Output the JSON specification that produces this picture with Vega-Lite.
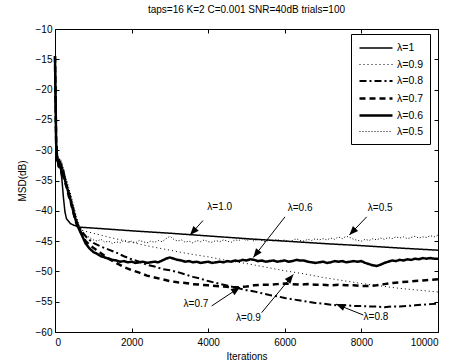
{
"$schema": "https://vega.github.io/schema/vega-lite/v6.json",
"width": 383, "height": 303,
"autosize": {"type": "none"},
"padding": {"left": 55, "top": 29, "right": 22, "bottom": 31},
"title": {"text": "taps=16 K=2 C=0.001 SNR=40dB trials=100", "fontSize": 10, "fontWeight": "normal", "font": "Liberation Sans", "color": "black", "offset": 9, "anchor": "middle"},
"config": {
  "font": "Liberation Sans",
  "view": {"stroke": "black", "strokeWidth": 1},
  "axis": {"domain": false, "grid": false, "ticks": true, "tickColor": "black", "tickSize": -4, "labelColor": "black", "labelFontSize": 10, "labelFont": "Liberation Sans", "titleFont": "Liberation Sans", "titleFontSize": 10, "titleFontWeight": "normal", "titleColor": "black"}
},
"datasets": {
"curves": [
{"lambda":"λ=1","iter":0,"msd":-14.5},{"lambda":"λ=1","iter":30,"msd":-28},{"lambda":"λ=1","iter":60,"msd":-31.5},{"lambda":"λ=1","iter":100,"msd":-32.3},{"lambda":"λ=1","iter":150,"msd":-33.3},{"lambda":"λ=1","iter":180,"msd":-34.8},{"lambda":"λ=1","iter":220,"msd":-37.8},{"lambda":"λ=1","iter":260,"msd":-40.2},{"lambda":"λ=1","iter":300,"msd":-41.3},{"lambda":"λ=1","iter":400,"msd":-42.1},{"lambda":"λ=1","iter":500,"msd":-42.4},{"lambda":"λ=1","iter":650,"msd":-42.7},{"lambda":"λ=1","iter":1000,"msd":-42.85},{"lambda":"λ=1","iter":2000,"msd":-43.3},{"lambda":"λ=1","iter":3000,"msd":-43.7},{"lambda":"λ=1","iter":4000,"msd":-44.15},{"lambda":"λ=1","iter":5000,"msd":-44.6},{"lambda":"λ=1","iter":6000,"msd":-45.0},{"lambda":"λ=1","iter":7000,"msd":-45.4},{"lambda":"λ=1","iter":8000,"msd":-45.75},{"lambda":"λ=1","iter":9000,"msd":-46.15},{"lambda":"λ=1","iter":10000,"msd":-46.5},

{"lambda":"λ=0.9","iter":0,"msd":-14.5},{"lambda":"λ=0.9","iter":30,"msd":-29},{"lambda":"λ=0.9","iter":60,"msd":-31.2},{"lambda":"λ=0.9","iter":90,"msd":-32.5},{"lambda":"λ=0.9","iter":120,"msd":-31.8},{"lambda":"λ=0.9","iter":160,"msd":-33.4},{"lambda":"λ=0.9","iter":200,"msd":-33},{"lambda":"λ=0.9","iter":250,"msd":-34.6},{"lambda":"λ=0.9","iter":300,"msd":-35.2},{"lambda":"λ=0.9","iter":350,"msd":-36.5},{"lambda":"λ=0.9","iter":400,"msd":-37.2},{"lambda":"λ=0.9","iter":450,"msd":-38.8},{"lambda":"λ=0.9","iter":500,"msd":-39.9},{"lambda":"λ=0.9","iter":550,"msd":-41.2},{"lambda":"λ=0.9","iter":600,"msd":-42.2},{"lambda":"λ=0.9","iter":700,"msd":-43.2},{"lambda":"λ=0.9","iter":800,"msd":-43.4},{"lambda":"λ=0.9","iter":1000,"msd":-43.7},{"lambda":"λ=0.9","iter":1500,"msd":-44.5},{"lambda":"λ=0.9","iter":2000,"msd":-45.2},{"lambda":"λ=0.9","iter":2500,"msd":-45.9},{"lambda":"λ=0.9","iter":3000,"msd":-46.5},{"lambda":"λ=0.9","iter":3500,"msd":-47.1},{"lambda":"λ=0.9","iter":4000,"msd":-47.6},{"lambda":"λ=0.9","iter":4500,"msd":-48.2},{"lambda":"λ=0.9","iter":5000,"msd":-48.7},{"lambda":"λ=0.9","iter":5500,"msd":-49.3},{"lambda":"λ=0.9","iter":6000,"msd":-49.9},{"lambda":"λ=0.9","iter":6500,"msd":-50.4},{"lambda":"λ=0.9","iter":7000,"msd":-51.0},{"lambda":"λ=0.9","iter":7500,"msd":-51.5},{"lambda":"λ=0.9","iter":8000,"msd":-52.0},{"lambda":"λ=0.9","iter":8500,"msd":-52.4},{"lambda":"λ=0.9","iter":9000,"msd":-52.8},{"lambda":"λ=0.9","iter":9500,"msd":-53.1},{"lambda":"λ=0.9","iter":10000,"msd":-53.4},

{"lambda":"λ=0.8","iter":0,"msd":-14.5},{"lambda":"λ=0.8","iter":30,"msd":-29.5},{"lambda":"λ=0.8","iter":60,"msd":-31},{"lambda":"λ=0.8","iter":90,"msd":-32.8},{"lambda":"λ=0.8","iter":130,"msd":-32},{"lambda":"λ=0.8","iter":170,"msd":-33.8},{"lambda":"λ=0.8","iter":210,"msd":-33.4},{"lambda":"λ=0.8","iter":260,"msd":-35},{"lambda":"λ=0.8","iter":310,"msd":-35.8},{"lambda":"λ=0.8","iter":360,"msd":-37},{"lambda":"λ=0.8","iter":410,"msd":-37.9},{"lambda":"λ=0.8","iter":460,"msd":-39.3},{"lambda":"λ=0.8","iter":510,"msd":-40.4},{"lambda":"λ=0.8","iter":560,"msd":-41.6},{"lambda":"λ=0.8","iter":620,"msd":-42.6},{"lambda":"λ=0.8","iter":700,"msd":-43.4},{"lambda":"λ=0.8","iter":800,"msd":-44.2},{"lambda":"λ=0.8","iter":900,"msd":-44.8},{"lambda":"λ=0.8","iter":1000,"msd":-45.3},{"lambda":"λ=0.8","iter":1200,"msd":-45.9},{"lambda":"λ=0.8","iter":1400,"msd":-46.4},{"lambda":"λ=0.8","iter":1600,"msd":-46.9},{"lambda":"λ=0.8","iter":1800,"msd":-47.5},{"lambda":"λ=0.8","iter":2000,"msd":-48.0},{"lambda":"λ=0.8","iter":2200,"msd":-48.4},{"lambda":"λ=0.8","iter":2400,"msd":-48.9},{"lambda":"λ=0.8","iter":2600,"msd":-49.2},{"lambda":"λ=0.8","iter":2800,"msd":-49.6},{"lambda":"λ=0.8","iter":3000,"msd":-49.8},{"lambda":"λ=0.8","iter":3200,"msd":-50.1},{"lambda":"λ=0.8","iter":3400,"msd":-50.5},{"lambda":"λ=0.8","iter":3600,"msd":-50.9},{"lambda":"λ=0.8","iter":3800,"msd":-51.2},{"lambda":"λ=0.8","iter":4000,"msd":-51.6},{"lambda":"λ=0.8","iter":4200,"msd":-51.9},{"lambda":"λ=0.8","iter":4400,"msd":-52.2},{"lambda":"λ=0.8","iter":4600,"msd":-52.5},{"lambda":"λ=0.8","iter":4800,"msd":-52.8},{"lambda":"λ=0.8","iter":5000,"msd":-53.1},{"lambda":"λ=0.8","iter":5200,"msd":-53.3},{"lambda":"λ=0.8","iter":5400,"msd":-53.6},{"lambda":"λ=0.8","iter":5600,"msd":-53.9},{"lambda":"λ=0.8","iter":5800,"msd":-54.1},{"lambda":"λ=0.8","iter":6000,"msd":-54.4},{"lambda":"λ=0.8","iter":6200,"msd":-54.6},{"lambda":"λ=0.8","iter":6400,"msd":-54.8},{"lambda":"λ=0.8","iter":6600,"msd":-55.0},{"lambda":"λ=0.8","iter":6800,"msd":-55.2},{"lambda":"λ=0.8","iter":7000,"msd":-55.3},{"lambda":"λ=0.8","iter":7200,"msd":-55.5},{"lambda":"λ=0.8","iter":7400,"msd":-55.6},{"lambda":"λ=0.8","iter":7600,"msd":-55.6},{"lambda":"λ=0.8","iter":7800,"msd":-55.7},{"lambda":"λ=0.8","iter":8000,"msd":-55.7},{"lambda":"λ=0.8","iter":8200,"msd":-55.8},{"lambda":"λ=0.8","iter":8400,"msd":-55.8},{"lambda":"λ=0.8","iter":8600,"msd":-55.9},{"lambda":"λ=0.8","iter":8800,"msd":-55.8},{"lambda":"λ=0.8","iter":9000,"msd":-55.8},{"lambda":"λ=0.8","iter":9200,"msd":-55.7},{"lambda":"λ=0.8","iter":9400,"msd":-55.6},{"lambda":"λ=0.8","iter":9600,"msd":-55.5},{"lambda":"λ=0.8","iter":9800,"msd":-55.4},{"lambda":"λ=0.8","iter":10000,"msd":-55.3},

{"lambda":"λ=0.7","iter":0,"msd":-14.5},{"lambda":"λ=0.7","iter":30,"msd":-28.5},{"lambda":"λ=0.7","iter":60,"msd":-31.8},{"lambda":"λ=0.7","iter":90,"msd":-31.2},{"lambda":"λ=0.7","iter":130,"msd":-33},{"lambda":"λ=0.7","iter":170,"msd":-32.6},{"lambda":"λ=0.7","iter":210,"msd":-34.2},{"lambda":"λ=0.7","iter":260,"msd":-35.3},{"lambda":"λ=0.7","iter":310,"msd":-36.2},{"lambda":"λ=0.7","iter":360,"msd":-37.6},{"lambda":"λ=0.7","iter":410,"msd":-38.5},{"lambda":"λ=0.7","iter":460,"msd":-39.8},{"lambda":"λ=0.7","iter":510,"msd":-41},{"lambda":"λ=0.7","iter":560,"msd":-42.1},{"lambda":"λ=0.7","iter":620,"msd":-43},{"lambda":"λ=0.7","iter":700,"msd":-43.8},{"lambda":"λ=0.7","iter":800,"msd":-45},{"lambda":"λ=0.7","iter":900,"msd":-45.6},{"lambda":"λ=0.7","iter":1000,"msd":-46.1},{"lambda":"λ=0.7","iter":1200,"msd":-47.0},{"lambda":"λ=0.7","iter":1400,"msd":-47.9},{"lambda":"λ=0.7","iter":1600,"msd":-48.6},{"lambda":"λ=0.7","iter":1800,"msd":-49.3},{"lambda":"λ=0.7","iter":2000,"msd":-49.8},{"lambda":"λ=0.7","iter":2200,"msd":-50.2},{"lambda":"λ=0.7","iter":2400,"msd":-50.7},{"lambda":"λ=0.7","iter":2600,"msd":-51.0},{"lambda":"λ=0.7","iter":2800,"msd":-51.3},{"lambda":"λ=0.7","iter":3000,"msd":-51.6},{"lambda":"λ=0.7","iter":3200,"msd":-51.8},{"lambda":"λ=0.7","iter":3400,"msd":-51.9},{"lambda":"λ=0.7","iter":3600,"msd":-52.1},{"lambda":"λ=0.7","iter":3800,"msd":-52.2},{"lambda":"λ=0.7","iter":4000,"msd":-52.3},{"lambda":"λ=0.7","iter":4200,"msd":-52.4},{"lambda":"λ=0.7","iter":4400,"msd":-52.5},{"lambda":"λ=0.7","iter":4600,"msd":-52.6},{"lambda":"λ=0.7","iter":4800,"msd":-52.6},{"lambda":"λ=0.7","iter":5000,"msd":-52.5},{"lambda":"λ=0.7","iter":5200,"msd":-52.3},{"lambda":"λ=0.7","iter":5400,"msd":-52.2},{"lambda":"λ=0.7","iter":5600,"msd":-52.2},{"lambda":"λ=0.7","iter":5800,"msd":-52.1},{"lambda":"λ=0.7","iter":6000,"msd":-52.0},{"lambda":"λ=0.7","iter":6200,"msd":-52.1},{"lambda":"λ=0.7","iter":6400,"msd":-52.2},{"lambda":"λ=0.7","iter":6600,"msd":-52.1},{"lambda":"λ=0.7","iter":6800,"msd":-52.2},{"lambda":"λ=0.7","iter":7000,"msd":-52.2},{"lambda":"λ=0.7","iter":7200,"msd":-52.3},{"lambda":"λ=0.7","iter":7400,"msd":-52.2},{"lambda":"λ=0.7","iter":7600,"msd":-52.3},{"lambda":"λ=0.7","iter":7800,"msd":-52.3},{"lambda":"λ=0.7","iter":8000,"msd":-52.4},{"lambda":"λ=0.7","iter":8200,"msd":-52.4},{"lambda":"λ=0.7","iter":8400,"msd":-52.3},{"lambda":"λ=0.7","iter":8600,"msd":-52.1},{"lambda":"λ=0.7","iter":8800,"msd":-51.9},{"lambda":"λ=0.7","iter":9000,"msd":-51.8},{"lambda":"λ=0.7","iter":9200,"msd":-51.7},{"lambda":"λ=0.7","iter":9400,"msd":-51.6},{"lambda":"λ=0.7","iter":9600,"msd":-51.5},{"lambda":"λ=0.7","iter":9800,"msd":-51.4},{"lambda":"λ=0.7","iter":10000,"msd":-51.3},

{"lambda":"λ=0.6","iter":0,"msd":-14.5},{"lambda":"λ=0.6","iter":30,"msd":-29},{"lambda":"λ=0.6","iter":60,"msd":-31.5},{"lambda":"λ=0.6","iter":100,"msd":-32.5},{"lambda":"λ=0.6","iter":140,"msd":-32.1},{"lambda":"λ=0.6","iter":180,"msd":-33.9},{"lambda":"λ=0.6","iter":220,"msd":-33.6},{"lambda":"λ=0.6","iter":270,"msd":-35.1},{"lambda":"λ=0.6","iter":320,"msd":-36.3},{"lambda":"λ=0.6","iter":370,"msd":-37.4},{"lambda":"λ=0.6","iter":420,"msd":-38.6},{"lambda":"λ=0.6","iter":470,"msd":-39.9},{"lambda":"λ=0.6","iter":520,"msd":-41.1},{"lambda":"λ=0.6","iter":580,"msd":-42.3},{"lambda":"λ=0.6","iter":640,"msd":-43.2},{"lambda":"λ=0.6","iter":700,"msd":-44.0},{"lambda":"λ=0.6","iter":800,"msd":-45.4},{"lambda":"λ=0.6","iter":900,"msd":-46.2},{"lambda":"λ=0.6","iter":1000,"msd":-46.8},{"lambda":"λ=0.6","iter":1100,"msd":-47.1},{"lambda":"λ=0.6","iter":1200,"msd":-47.5},
{"lambda":"λ=0.6","iter":1300,"msd":-47.7},{"lambda":"λ=0.6","iter":1400,"msd":-47.9},{"lambda":"λ=0.6","iter":1500,"msd":-48.1},{"lambda":"λ=0.6","iter":1600,"msd":-48.2},{"lambda":"λ=0.6","iter":1700,"msd":-48.4},{"lambda":"λ=0.6","iter":1800,"msd":-48.3},{"lambda":"λ=0.6","iter":1900,"msd":-48.5},{"lambda":"λ=0.6","iter":2000,"msd":-48.4},{"lambda":"λ=0.6","iter":2100,"msd":-48.6},{"lambda":"λ=0.6","iter":2200,"msd":-48.5},{"lambda":"λ=0.6","iter":2300,"msd":-48.4},{"lambda":"λ=0.6","iter":2400,"msd":-48.6},{"lambda":"λ=0.6","iter":2500,"msd":-48.5},{"lambda":"λ=0.6","iter":2600,"msd":-48.4},{"lambda":"λ=0.6","iter":2700,"msd":-48.5},{"lambda":"λ=0.6","iter":2800,"msd":-48.2},{"lambda":"λ=0.6","iter":2900,"msd":-47.9},{"lambda":"λ=0.6","iter":3000,"msd":-47.7},{"lambda":"λ=0.6","iter":3100,"msd":-47.9},{"lambda":"λ=0.6","iter":3200,"msd":-48.1},{"lambda":"λ=0.6","iter":3300,"msd":-48.2},{"lambda":"λ=0.6","iter":3400,"msd":-48.4},{"lambda":"λ=0.6","iter":3500,"msd":-48.3},{"lambda":"λ=0.6","iter":3600,"msd":-48.5},{"lambda":"λ=0.6","iter":3700,"msd":-48.4},{"lambda":"λ=0.6","iter":3800,"msd":-48.6},{"lambda":"λ=0.6","iter":3900,"msd":-48.5},{"lambda":"λ=0.6","iter":4000,"msd":-48.4},{"lambda":"λ=0.6","iter":4100,"msd":-48.6},{"lambda":"λ=0.6","iter":4200,"msd":-48.5},{"lambda":"λ=0.6","iter":4300,"msd":-48.4},{"lambda":"λ=0.6","iter":4400,"msd":-48.5},{"lambda":"λ=0.6","iter":4500,"msd":-48.3},{"lambda":"λ=0.6","iter":4600,"msd":-48.4},{"lambda":"λ=0.6","iter":4700,"msd":-48.2},{"lambda":"λ=0.6","iter":4800,"msd":-48.3},{"lambda":"λ=0.6","iter":4900,"msd":-48.1},{"lambda":"λ=0.6","iter":5000,"msd":-48.2},{"lambda":"λ=0.6","iter":5100,"msd":-48.0},{"lambda":"λ=0.6","iter":5200,"msd":-48.1},{"lambda":"λ=0.6","iter":5300,"msd":-48.3},{"lambda":"λ=0.6","iter":5400,"msd":-48.2},{"lambda":"λ=0.6","iter":5500,"msd":-48.4},{"lambda":"λ=0.6","iter":5600,"msd":-48.3},{"lambda":"λ=0.6","iter":5700,"msd":-48.2},{"lambda":"λ=0.6","iter":5800,"msd":-48.4},{"lambda":"λ=0.6","iter":5900,"msd":-48.3},{"lambda":"λ=0.6","iter":6000,"msd":-48.2},{"lambda":"λ=0.6","iter":6100,"msd":-48.4},{"lambda":"λ=0.6","iter":6200,"msd":-48.3},{"lambda":"λ=0.6","iter":6300,"msd":-48.1},{"lambda":"λ=0.6","iter":6400,"msd":-48.2},{"lambda":"λ=0.6","iter":6500,"msd":-48.2},{"lambda":"λ=0.6","iter":6600,"msd":-48.4},{"lambda":"λ=0.6","iter":6700,"msd":-48.5},{"lambda":"λ=0.6","iter":6800,"msd":-48.6},{"lambda":"λ=0.6","iter":6900,"msd":-48.5},{"lambda":"λ=0.6","iter":7000,"msd":-48.4},{"lambda":"λ=0.6","iter":7100,"msd":-48.6},{"lambda":"λ=0.6","iter":7200,"msd":-48.5},{"lambda":"λ=0.6","iter":7300,"msd":-48.3},{"lambda":"λ=0.6","iter":7400,"msd":-48.4},{"lambda":"λ=0.6","iter":7500,"msd":-48.3},{"lambda":"λ=0.6","iter":7600,"msd":-48.5},{"lambda":"λ=0.6","iter":7700,"msd":-48.4},{"lambda":"λ=0.6","iter":7800,"msd":-48.3},{"lambda":"λ=0.6","iter":7900,"msd":-48.4},{"lambda":"λ=0.6","iter":8000,"msd":-48.3},{"lambda":"λ=0.6","iter":8100,"msd":-48.6},{"lambda":"λ=0.6","iter":8200,"msd":-48.8},{"lambda":"λ=0.6","iter":8300,"msd":-49.0},{"lambda":"λ=0.6","iter":8400,"msd":-49.1},{"lambda":"λ=0.6","iter":8500,"msd":-48.9},{"lambda":"λ=0.6","iter":8600,"msd":-48.6},{"lambda":"λ=0.6","iter":8700,"msd":-48.4},{"lambda":"λ=0.6","iter":8800,"msd":-48.2},{"lambda":"λ=0.6","iter":8900,"msd":-48.3},{"lambda":"λ=0.6","iter":9000,"msd":-48.1},{"lambda":"λ=0.6","iter":9100,"msd":-48.2},{"lambda":"λ=0.6","iter":9200,"msd":-48.0},{"lambda":"λ=0.6","iter":9300,"msd":-48.1},{"lambda":"λ=0.6","iter":9400,"msd":-47.9},{"lambda":"λ=0.6","iter":9500,"msd":-48.0},{"lambda":"λ=0.6","iter":9600,"msd":-47.8},{"lambda":"λ=0.6","iter":9700,"msd":-47.9},{"lambda":"λ=0.6","iter":9800,"msd":-47.8},{"lambda":"λ=0.6","iter":9900,"msd":-47.9},{"lambda":"λ=0.6","iter":10000,"msd":-47.9},

{"lambda":"λ=0.5","iter":0,"msd":-14.5},{"lambda":"λ=0.5","iter":30,"msd":-30},{"lambda":"λ=0.5","iter":60,"msd":-31},{"lambda":"λ=0.5","iter":90,"msd":-32.2},{"lambda":"λ=0.5","iter":130,"msd":-31.5},{"lambda":"λ=0.5","iter":170,"msd":-33},{"lambda":"λ=0.5","iter":210,"msd":-32.8},{"lambda":"λ=0.5","iter":260,"msd":-34.3},{"lambda":"λ=0.5","iter":310,"msd":-35},{"lambda":"λ=0.5","iter":360,"msd":-36.2},{"lambda":"λ=0.5","iter":410,"msd":-37.3},{"lambda":"λ=0.5","iter":460,"msd":-38.5},{"lambda":"λ=0.5","iter":510,"msd":-39.7},{"lambda":"λ=0.5","iter":560,"msd":-41},{"lambda":"λ=0.5","iter":620,"msd":-42.2},{"lambda":"λ=0.5","iter":700,"msd":-43.2},{"lambda":"λ=0.5","iter":800,"msd":-44},{"lambda":"λ=0.5","iter":900,"msd":-44.4},
{"lambda":"λ=0.5","iter":1000,"msd":-44.8},{"lambda":"λ=0.5","iter":1100,"msd":-45.0},{"lambda":"λ=0.5","iter":1200,"msd":-44.7},{"lambda":"λ=0.5","iter":1300,"msd":-45.2},{"lambda":"λ=0.5","iter":1400,"msd":-45.0},{"lambda":"λ=0.5","iter":1500,"msd":-45.4},{"lambda":"λ=0.5","iter":1600,"msd":-45.1},{"lambda":"λ=0.5","iter":1700,"msd":-45.3},{"lambda":"λ=0.5","iter":1800,"msd":-44.9},{"lambda":"λ=0.5","iter":1900,"msd":-45.2},{"lambda":"λ=0.5","iter":2000,"msd":-45.0},{"lambda":"λ=0.5","iter":2100,"msd":-45.3},{"lambda":"λ=0.5","iter":2200,"msd":-44.9},{"lambda":"λ=0.5","iter":2300,"msd":-45.1},{"lambda":"λ=0.5","iter":2400,"msd":-45.3},{"lambda":"λ=0.5","iter":2500,"msd":-45.0},{"lambda":"λ=0.5","iter":2600,"msd":-45.2},{"lambda":"λ=0.5","iter":2700,"msd":-44.9},{"lambda":"λ=0.5","iter":2800,"msd":-45.1},{"lambda":"λ=0.5","iter":2900,"msd":-44.6},{"lambda":"λ=0.5","iter":3000,"msd":-44.2},{"lambda":"λ=0.5","iter":3100,"msd":-44.7},{"lambda":"λ=0.5","iter":3200,"msd":-45.0},{"lambda":"λ=0.5","iter":3300,"msd":-44.8},{"lambda":"λ=0.5","iter":3400,"msd":-45.2},{"lambda":"λ=0.5","iter":3500,"msd":-45.0},{"lambda":"λ=0.5","iter":3600,"msd":-45.3},{"lambda":"λ=0.5","iter":3700,"msd":-44.9},{"lambda":"λ=0.5","iter":3800,"msd":-45.1},{"lambda":"λ=0.5","iter":3900,"msd":-44.8},{"lambda":"λ=0.5","iter":4000,"msd":-45.1},{"lambda":"λ=0.5","iter":4100,"msd":-45.2},{"lambda":"λ=0.5","iter":4200,"msd":-44.9},{"lambda":"λ=0.5","iter":4300,"msd":-45.1},{"lambda":"λ=0.5","iter":4400,"msd":-44.8},{"lambda":"λ=0.5","iter":4500,"msd":-45.0},{"lambda":"λ=0.5","iter":4600,"msd":-45.2},{"lambda":"λ=0.5","iter":4700,"msd":-44.8},{"lambda":"λ=0.5","iter":4800,"msd":-44.9},{"lambda":"λ=0.5","iter":4900,"msd":-44.6},{"lambda":"λ=0.5","iter":5000,"msd":-44.9},{"lambda":"λ=0.5","iter":5100,"msd":-44.7},{"lambda":"λ=0.5","iter":5200,"msd":-45.0},{"lambda":"λ=0.5","iter":5300,"msd":-44.7},{"lambda":"λ=0.5","iter":5400,"msd":-44.9},{"lambda":"λ=0.5","iter":5500,"msd":-45.1},{"lambda":"λ=0.5","iter":5600,"msd":-44.8},{"lambda":"λ=0.5","iter":5700,"msd":-45.0},{"lambda":"λ=0.5","iter":5800,"msd":-44.7},{"lambda":"λ=0.5","iter":5900,"msd":-45.0},{"lambda":"λ=0.5","iter":6000,"msd":-44.8},{"lambda":"λ=0.5","iter":6100,"msd":-45.1},{"lambda":"λ=0.5","iter":6200,"msd":-44.9},{"lambda":"λ=0.5","iter":6300,"msd":-44.6},{"lambda":"λ=0.5","iter":6400,"msd":-44.9},{"lambda":"λ=0.5","iter":6500,"msd":-45.0},{"lambda":"λ=0.5","iter":6600,"msd":-44.7},{"lambda":"λ=0.5","iter":6700,"msd":-44.9},{"lambda":"λ=0.5","iter":6800,"msd":-44.6},{"lambda":"λ=0.5","iter":6900,"msd":-44.8},{"lambda":"λ=0.5","iter":7000,"msd":-44.6},{"lambda":"λ=0.5","iter":7100,"msd":-44.8},{"lambda":"λ=0.5","iter":7200,"msd":-44.5},{"lambda":"λ=0.5","iter":7300,"msd":-44.7},{"lambda":"λ=0.5","iter":7400,"msd":-44.3},{"lambda":"λ=0.5","iter":7500,"msd":-44.6},{"lambda":"λ=0.5","iter":7600,"msd":-44.2},{"lambda":"λ=0.5","iter":7700,"msd":-44.4},{"lambda":"λ=0.5","iter":7800,"msd":-44.7},{"lambda":"λ=0.5","iter":7900,"msd":-44.9},{"lambda":"λ=0.5","iter":8000,"msd":-45.0},{"lambda":"λ=0.5","iter":8100,"msd":-44.7},{"lambda":"λ=0.5","iter":8200,"msd":-44.9},{"lambda":"λ=0.5","iter":8300,"msd":-44.6},{"lambda":"λ=0.5","iter":8400,"msd":-44.8},{"lambda":"λ=0.5","iter":8500,"msd":-44.5},{"lambda":"λ=0.5","iter":8600,"msd":-44.7},{"lambda":"λ=0.5","iter":8700,"msd":-44.4},{"lambda":"λ=0.5","iter":8800,"msd":-44.6},{"lambda":"λ=0.5","iter":8900,"msd":-44.3},{"lambda":"λ=0.5","iter":9000,"msd":-44.5},{"lambda":"λ=0.5","iter":9100,"msd":-44.3},{"lambda":"λ=0.5","iter":9200,"msd":-44.6},{"lambda":"λ=0.5","iter":9300,"msd":-44.4},{"lambda":"λ=0.5","iter":9400,"msd":-44.2},{"lambda":"λ=0.5","iter":9500,"msd":-44.5},{"lambda":"λ=0.5","iter":9600,"msd":-44.3},{"lambda":"λ=0.5","iter":9700,"msd":-44.4},{"lambda":"λ=0.5","iter":9800,"msd":-44.1},{"lambda":"λ=0.5","iter":9900,"msd":-44.3},{"lambda":"λ=0.5","iter":10000,"msd":-44.0}
],
"notes": [
{"label":"λ=1.0","tx":4300,"ty":-39.4,"ax":3865,"ay":-41.6,"bx":3525,"by":-44.0,"angle":222.3},
{"label":"λ=0.6","tx":6400,"ty":-39.6,"ax":6005,"ay":-41.0,"bx":5178,"by":-47.7,"angle":218},
{"label":"λ=0.5","tx":8490,"ty":-39.6,"ax":8138,"ay":-41.0,"bx":7685,"by":-44.0,"angle":223.5},
{"label":"λ=0.7","tx":3680,"ty":-55.3,"ax":4091,"ay":-55.7,"bx":4830,"by":-52.6,"angle":56.5},
{"label":"λ=0.9","tx":5050,"ty":-57.7,"ax":5397,"ay":-56.8,"bx":6222,"by":-50.5,"angle":39.5},
{"label":"λ=0.8","tx":8380,"ty":-57.5,"ax":8050,"ay":-57.2,"bx":7337,"by":-55.4,"angle":291.9}
]
},
"layer": [
{
 "data": {"name": "curves"},
 "mark": {"type": "line", "color": "black", "strokeCap": "butt"},
 "encoding": {
  "x": {"field": "iter", "type": "quantitative", "scale": {"domain": [0, 10000], "nice": false}, "axis": {"values": [0, 2000, 4000, 6000, 8000, 10000], "format": "d", "title": "Iterations", "titlePadding": 4, "labelPadding": 9}},
  "y": {"field": "msd", "type": "quantitative", "scale": {"domain": [-60, -10], "nice": false}, "axis": {"values": [-60, -55, -50, -45, -40, -35, -30, -25, -20, -15, -10], "title": "MSD(dB)", "titlePadding": 8, "labelPadding": 7}},
  "strokeDash": {"field": "lambda", "type": "nominal", "sort": ["λ=1", "λ=0.9", "λ=0.8", "λ=0.7", "λ=0.6", "λ=0.5"],
    "scale": {"domain": ["λ=1", "λ=0.9", "λ=0.8", "λ=0.7", "λ=0.6", "λ=0.5"], "range": [[1, 0], [1, 3], [7, 3, 2, 3], [6, 4], [1, 0], [1, 2]]},
    "legend": {"orient": "none", "legendX": 296, "legendY": 5, "title": null, "symbolType": "M-1,0H4.5", "symbolSize": 144, "symbolStrokeColor": "black", "labelFontSize": 10.5, "labelFont": "Liberation Sans", "labelColor": "black", "strokeColor": "black", "fillColor": "white", "padding": 7, "rowPadding": 4, "columnPadding": 0, "labelOffset": 24}},
  "strokeWidth": {"field": "lambda", "type": "nominal", "sort": ["λ=1", "λ=0.9", "λ=0.8", "λ=0.7", "λ=0.6", "λ=0.5"],
    "scale": {"type": "ordinal", "domain": ["λ=1", "λ=0.9", "λ=0.8", "λ=0.7", "λ=0.6", "λ=0.5"], "range": [1.5, 1, 2, 2.5, 2.5, 1]},
    "legend": {"orient": "none", "legendX": 296, "legendY": 5, "title": null, "symbolType": "M-1,0H4.5", "symbolSize": 144, "symbolStrokeColor": "black", "labelFontSize": 10.5, "labelFont": "Liberation Sans", "labelColor": "black", "strokeColor": "black", "fillColor": "white", "padding": 7, "rowPadding": 4, "columnPadding": 0, "labelOffset": 24}}
 }
},
{
 "data": {"name": "notes"},
 "mark": {"type": "rule", "color": "black", "strokeWidth": 1},
 "encoding": {
  "x": {"field": "ax", "type": "quantitative", "scale": {"domain": [0, 10000], "nice": false}, "axis": null},
  "y": {"field": "ay", "type": "quantitative", "scale": {"domain": [-60, -10], "nice": false}, "axis": null},
  "x2": {"field": "bx"},
  "y2": {"field": "by"}
 }
},
{
 "data": {"name": "notes"},
 "mark": {"type": "point", "shape": "M0,0L-0.4,1L0.4,1Z", "filled": true, "color": "black", "size": 324, "opacity": 1, "strokeWidth": 0},
 "encoding": {
  "x": {"field": "bx", "type": "quantitative", "scale": {"domain": [0, 10000], "nice": false}, "axis": null},
  "y": {"field": "by", "type": "quantitative", "scale": {"domain": [-60, -10], "nice": false}, "axis": null},
  "angle": {"field": "angle", "type": "quantitative", "scale": null}
 }
},
{
 "data": {"name": "notes"},
 "mark": {"type": "text", "fontSize": 10, "font": "Liberation Sans", "color": "black"},
 "encoding": {
  "x": {"field": "tx", "type": "quantitative", "scale": {"domain": [0, 10000], "nice": false}, "axis": {"orient": "top", "labels": false, "title": null, "values": [0, 2000, 4000, 6000, 8000, 10000]}},
  "y": {"field": "ty", "type": "quantitative", "scale": {"domain": [-60, -10], "nice": false}, "axis": {"orient": "right", "labels": false, "title": null, "values": [-60, -55, -50, -45, -40, -35, -30, -25, -20, -15, -10]}},
  "text": {"field": "label"}
 }
}
],
"resolve": {"axis": {"x": "independent", "y": "independent"}}
}
